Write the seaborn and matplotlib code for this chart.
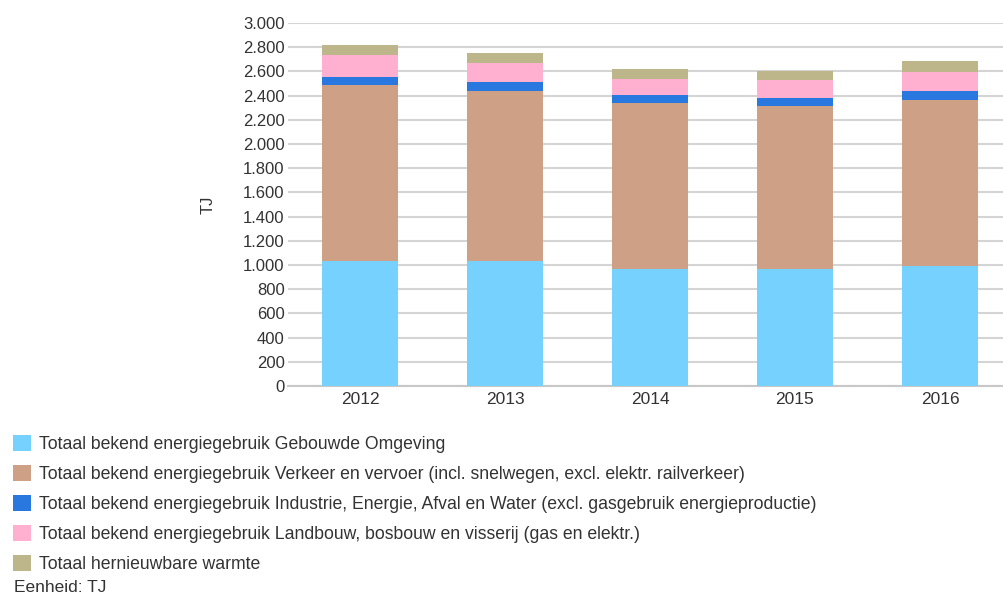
import matplotlib
matplotlib.use("Agg")
import matplotlib.pyplot as plt
import matplotlib.ticker as mticker
import numpy as np
import pandas as pd
import seaborn as sns

years = ["2012", "2013", "2014", "2015", "2016"]
gebouwde_omgeving = [1030, 1030, 965, 965, 992]
verkeer = [1455, 1405, 1372, 1347, 1374]
industrie = [66, 77, 69, 69, 69]
landbouw = [187, 160, 135, 146, 160]
hernieuwbaar = [80, 77, 77, 77, 88]

labels = [
    "Totaal bekend energiegebruik Gebouwde Omgeving",
    "Totaal bekend energiegebruik Verkeer en vervoer (incl. snelwegen, excl. elektr. railverkeer)",
    "Totaal bekend energiegebruik Industrie, Energie, Afval en Water (excl. gasgebruik energieproductie)",
    "Totaal bekend energiegebruik Landbouw, bosbouw en visserij (gas en elektr.)",
    "Totaal hernieuwbare warmte",
]
colors = ["#77D1FE", "#CEA086", "#2878E0", "#FFB0D0", "#BCB68A"]

series = [gebouwde_omgeving, verkeer, industrie, landbouw, hernieuwbaar]
cum = np.cumsum(np.array(series), axis=0)

sns.set_theme(style="white")
plt.rcParams["font.family"] = ["Liberation Sans", "DejaVu Sans"]

fig = plt.figure(figsize=(10.04, 5.96), dpi=100)
ax = fig.add_axes([287.5 / 1004, 1 - 386 / 596, 725 / 1004, 363 / 596])

# draw from the top of the stack down so each layer covers the next one
for i in range(len(series) - 1, -1, -1):
    df = pd.DataFrame({"Jaar": years, "TJ": cum[i]})
    sns.barplot(data=df, x="Jaar", y="TJ", color=colors[i], width=0.52,
                saturation=1, ax=ax, zorder=3, linewidth=0)

ax.set_ylim(0, 3000)
ax.set_xlim(-0.5, 4.5)
ax.yaxis.set_major_locator(mticker.MultipleLocator(200))
ax.yaxis.set_major_formatter(mticker.FuncFormatter(lambda v, p: f"{int(v):,}".replace(",", ".")))
ax.grid(axis="y", color="#D4D4D4", linewidth=1.5, zorder=0)
for s in ["top", "right", "left"]:
    ax.spines[s].set_visible(False)
ax.spines["bottom"].set_color("#C8C8C8")
ax.spines["bottom"].set_linewidth(1.5)
ax.tick_params(axis="y", length=0, labelsize=12, colors="#333333", pad=2)
ax.tick_params(axis="x", length=0, labelsize=12.5, colors="#333333", pad=4)
ax.set_xlabel("")
ax.set_ylabel("TJ", fontsize=12, color="#333333", labelpad=20)

handles = [plt.Rectangle((0, 0), 1, 1, facecolor=c, edgecolor="none") for c in colors]
fig.legend(handles, labels, loc="upper left", bbox_to_anchor=(13 / 1004, 1 - 435 / 596),
           frameon=False, fontsize=12.7, labelspacing=0.67, handlelength=1.04,
           handleheight=1.04, handletextpad=0.45, borderpad=0, borderaxespad=0,
           labelcolor="#333333")
fig.text(14 / 1004, 1 - 588 / 596, "Eenheid: TJ", fontsize=12.5, color="#333333", va="center")

fig.savefig("out.png", dpi=100)
